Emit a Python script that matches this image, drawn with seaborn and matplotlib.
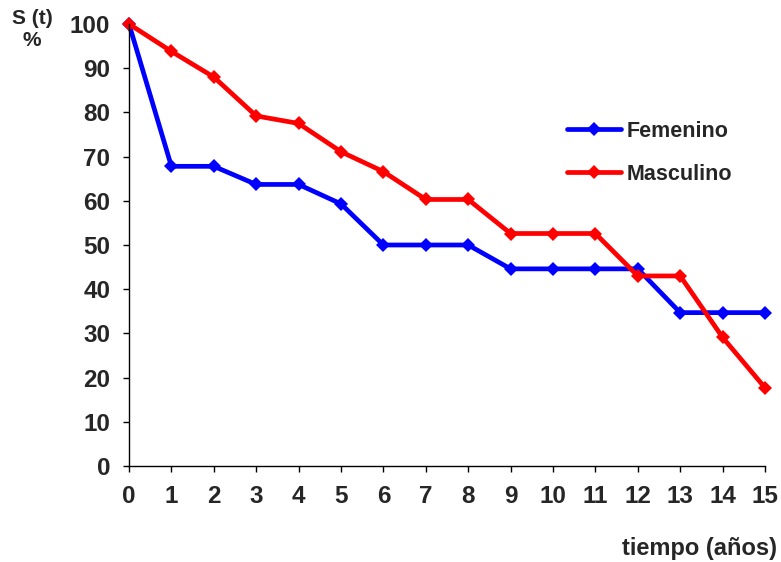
import matplotlib
matplotlib.use("Agg")
import matplotlib.pyplot as plt
import seaborn as sns
import pandas as pd

years = list(range(16))
femenino = [100, 67.8, 67.8, 63.7, 63.7, 59.3, 50.0, 50.0, 50.0, 44.6, 44.6, 44.6, 44.6, 34.7, 34.7, 34.7]
masculino = [100, 93.8, 88.0, 79.2, 77.5, 71.1, 66.6, 60.3, 60.3, 52.6, 52.6, 52.6, 43.0, 43.0, 29.1, 17.7]
groups = ["Femenino", "Masculino"]
colors = {"Femenino": "#0000FF", "Masculino": "#FF0000"}

df = pd.concat([
    pd.DataFrame({"t": years, "S": femenino, "Sexo": groups[0]}),
    pd.DataFrame({"t": years, "S": masculino, "Sexo": groups[1]}),
])

sns.set_theme(style="ticks")
plt.rcParams["font.family"] = ["Liberation Sans", "DejaVu Sans"]
plt.rcParams["font.weight"] = "bold"

W, H = 781, 562
fig = plt.figure(figsize=(W / 100, H / 100), dpi=100)
ax = fig.add_axes([129 / W, 1 - 466 / H, (765 - 129) / W, (466 - 24) / H])

sns.lineplot(data=df, x="t", y="S", hue="Sexo", palette=colors, hue_order=groups,
             marker="D", markersize=7.5, markeredgewidth=0, linewidth=3.4,
             ax=ax, clip_on=False, legend=True)

ax.set_xlim(0, 15)
ax.set_ylim(0, 100)
ax.set_xticks(years)
ax.set_yticks(range(0, 101, 10))
ax.tick_params(axis="both", labelsize=17.5, length=4.5, width=1, color="black", direction="out")
ax.tick_params(axis="x", pad=9)
ax.tick_params(axis="y", pad=9)
for lab in ax.get_xticklabels() + ax.get_yticklabels():
    lab.set_fontweight("bold")
for s in ["top", "right"]:
    ax.spines[s].set_visible(False)
for s in ["left", "bottom"]:
    ax.spines[s].set_color("black")
    ax.spines[s].set_linewidth(1)
ax.set_xlabel("")
ax.set_ylabel("")

fig.text(32 / W, 1 - 19 / H, "S (t)", ha="center", va="center", fontsize=15, fontweight="bold")
fig.text(32 / W, 1 - 41 / H, "%", ha="center", va="center", fontsize=15, fontweight="bold")
fig.text(700 / W, 1 - 548 / H, "tiempo (años)", ha="center", va="center", fontsize=17, fontweight="bold")

# legend placed in figure coordinates, to the right of the curves
handles, labels = ax.get_legend_handles_labels()
ax.get_legend().remove()
leg = fig.legend(handles, labels, loc="upper left", bbox_to_anchor=(567 / W, 1 - 121 / H),
                 frameon=False, fontsize=15.5, handlelength=2.5, labelspacing=1.0,
                 handletextpad=0.25, borderaxespad=0, borderpad=0)
for t in leg.get_texts():
    t.set_fontweight("bold")

fig.savefig("out.png", dpi=100)
